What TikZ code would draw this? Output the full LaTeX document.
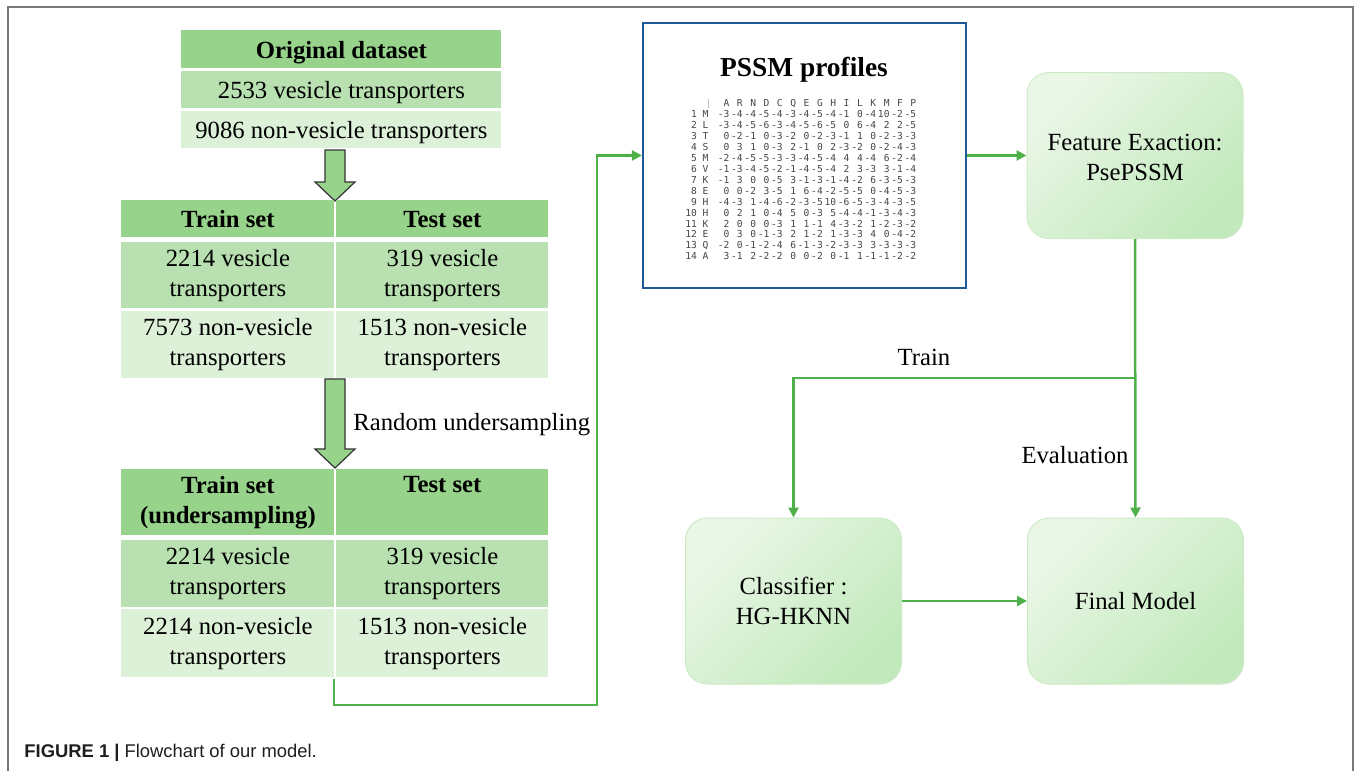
\documentclass[tikz,border=0pt]{standalone}
\usepackage{fontspec}
\setmainfont{Liberation Serif}
\newfontfamily\capfont{Liberation Sans}
\newfontfamily\pssmmono{DejaVu Sans Mono}
\usetikzlibrary{arrows.meta}
\definecolor{hdr}{RGB}{151,211,139}
\definecolor{midg}{RGB}{185,224,176}
\definecolor{lite}{RGB}{221,240,216}
\definecolor{lineg}{RGB}{77,176,72}
\definecolor{pblue}{RGB}{31,90,150}
\definecolor{boxA}{RGB}{234,247,231}
\definecolor{boxB}{RGB}{194,233,188}
\definecolor{boxE}{RGB}{205,234,199}
\definecolor{framec}{RGB}{120,120,120}
\definecolor{pssmgray}{RGB}{70,70,70}
\definecolor{capc}{RGB}{30,30,30}
\newcommand\bdfont{\fontsize{12.35}{15}\selectfont}
\newcommand\pssmrow[2]{\makebox[12pt][r]{#1}\hspace{3.8pt}\foreach \v in {#2}{\makebox[6.675pt][r]{\v}}}
\tikzset{
  cell/.style={anchor=north west, inner sep=0pt, align=center, font=\bdfont,
    execute at begin node={\rule{0pt}{11.5pt}},
    execute at end node={\rule[-2.8pt]{0pt}{0pt}}},
  barrow/.style={draw=black!80, line width=0.6pt, fill=hdr},
  conn/.style={draw=lineg, line width=1.25pt, -{Triangle[length=5pt,width=5pt]}},
  rbox/.style={rounded corners=11pt, draw=boxE, line width=0.5pt,
    top color=boxA, bottom color=boxB, shading angle=45,
    minimum width=108pt, minimum height=83pt, align=center, inner sep=0pt, font=\bdfont},
  prow/.style={anchor=base west, inner sep=0pt, text=pssmgray, font=\pssmmono\fontsize{4.8}{5}\selectfont},
  lbl/.style={inner sep=0pt, font=\bdfont}
}
\begin{document}
\begin{tikzpicture}[x=0.5pt,y=-0.5pt]
\useasboundingbox (0,0) rectangle (1356,771);
% frame
\draw[framec, line width=0.8pt] (8,771) -- (8,7) -- (1353,7) -- (1353,771);

% table 1
\node[cell, fill=hdr, minimum width=160pt, minimum height=19pt] (od) at (181,30) {\bfseries Original dataset};
\node[cell, fill=midg, minimum width=160pt, minimum height=18.5pt] (od1) at (181,71) {2533 vesicle transporters};
\node[cell, fill=lite, minimum width=160pt, minimum height=18.5pt] (od2) at (181,111) {9086 non-vesicle transporters};

% block arrow 1
\draw[barrow] (325,150) -- (345,150) -- (345,182) -- (355,182) -- (335,201) -- (315,182) -- (325,182) -- cycle;

% table 2
\node[cell, fill=hdr, minimum width=106.5pt, minimum height=18.5pt] (t2a) at (121,200) {\bfseries Train set};
\node[cell, fill=hdr, minimum width=106pt, minimum height=18.5pt] (t2b) at (336,200) {\bfseries Test set};
\node[cell, fill=midg, minimum width=106.5pt, minimum height=33pt] (t2c) at (121,242) {2214 vesicle\\transporters};
\node[cell, fill=midg, minimum width=106pt, minimum height=33pt] (t2d) at (336,242) {319 vesicle\\transporters};
\node[cell, fill=lite, minimum width=106.5pt, minimum height=33.5pt] (t2e) at (121,311) {7573 non-vesicle\\transporters};
\node[cell, fill=lite, minimum width=106pt, minimum height=33.5pt] (t2f) at (336,311) {1513 non-vesicle\\transporters};

% block arrow 2
\draw[barrow] (325,379) -- (345,379) -- (345,449) -- (355,449) -- (335,468) -- (315,449) -- (325,449) -- cycle;
\node[lbl, anchor=west] (rus) at (353,425) {Random undersampling};

% table 3
\node[cell, fill=hdr, minimum width=106.5pt, minimum height=33pt] (t3a) at (121,469) {\bfseries Train set\\\bfseries (undersampling)};
\node[cell, fill=hdr, minimum width=106pt, minimum height=33pt] (t3b) at (336,469) {\bfseries Test set\\\phantom{(}};
\node[cell, fill=midg, minimum width=106.5pt, minimum height=33.5pt] (t3c) at (121,540) {2214 vesicle\\transporters};
\node[cell, fill=midg, minimum width=106pt, minimum height=33.5pt] (t3d) at (336,540) {319 vesicle\\transporters};
\node[cell, fill=lite, minimum width=106.5pt, minimum height=34pt] (t3e) at (121,609) {2214 non-vesicle\\transporters};
\node[cell, fill=lite, minimum width=106pt, minimum height=34pt] (t3f) at (336,609) {1513 non-vesicle\\transporters};

% PSSM box
\node[draw=pblue, line width=1.1pt, fill=white, minimum width=161.5pt, minimum height=132.5pt, inner sep=0pt] (pssm) at (804.5,155.5) {};
\node[anchor=base, inner sep=0pt, font=\fontsize{13.7}{16}\selectfont\bfseries] (ptitle) at (804,76) {PSSM profiles};
\draw[black!25, line width=0.3pt] (708,99) -- (708,108);
\node[prow] (p0) at (684,106) {\pssmrow{}{A,R,N,D,C,Q,E,G,H,I,L,K,M,F,P}};
\node[prow] (p1) at (684,117.5) {\pssmrow{1~M}{-3,-4,-4,-5,-4,-3,-4,-5,-4,-1,0,-4,10,-2,-5}};
\node[prow] (p2) at (684,128.45) {\pssmrow{2~L}{-3,-4,-5,-6,-3,-4,-5,-6,-5,0,6,-4,2,2,-5}};
\node[prow] (p3) at (684,139.4) {\pssmrow{3~T}{0,-2,-1,0,-3,-2,0,-2,-3,-1,1,0,-2,-3,-3}};
\node[prow] (p4) at (684,150.35) {\pssmrow{4~S}{0,3,1,0,-3,2,-1,0,2,-3,-2,0,-2,-4,-3}};
\node[prow] (p5) at (684,161.3) {\pssmrow{5~M}{-2,-4,-5,-5,-3,-3,-4,-5,-4,4,4,-4,6,-2,-4}};
\node[prow] (p6) at (684,172.25) {\pssmrow{6~V}{-1,-3,-4,-5,-2,-1,-4,-5,-4,2,3,-3,3,-1,-4}};
\node[prow] (p7) at (684,183.2) {\pssmrow{7~K}{-1,3,0,0,-5,3,-1,-3,-1,-4,-2,6,-3,-5,-3}};
\node[prow] (p8) at (684,194.15) {\pssmrow{8~E}{0,0,-2,3,-5,1,6,-4,-2,-5,-5,0,-4,-5,-3}};
\node[prow] (p9) at (684,205.1) {\pssmrow{9~H}{-4,-3,1,-4,-6,-2,-3,-5,10,-6,-5,-3,-4,-3,-5}};
\node[prow] (p10) at (684,216.05) {\pssmrow{10~H}{0,2,1,0,-4,5,0,-3,5,-4,-4,-1,-3,-4,-3}};
\node[prow] (p11) at (684,227) {\pssmrow{11~K}{2,0,0,0,-3,1,1,-1,4,-3,-2,1,-2,-3,-2}};
\node[prow] (p12) at (684,237.95) {\pssmrow{12~E}{0,3,0,-1,-3,2,1,-2,1,-3,-3,4,0,-4,-2}};
\node[prow] (p13) at (684,248.9) {\pssmrow{13~Q}{-2,0,-1,-2,-4,6,-1,-3,-2,-3,-3,3,-3,-3,-3}};
\node[prow] (p14) at (684,259.85) {\pssmrow{14~A}{3,-1,2,-2,-2,0,0,-2,0,-1,1,-1,-1,-2,-2}};

% rounded boxes
\node[rbox] (feat) at (1135,155.5) {\rule{0pt}{10.5pt}Feature Exaction:\\PsePSSM};
\node[rbox] (cls) at (793.5,601) {Classifier :\\HG-HKNN};
\node[rbox] (final) at (1135.5,601) {Final Model};

% connectors
\coordinate (s) at (334,679);
\draw[conn] (s) |- (597,705) |- (pssm.west);
\draw[conn] (pssm.east) -- (feat.west);
\draw[conn] (feat.south) -- (final.north);
\coordinate (j) at (feat.south |- 0,378);
\draw[conn] (j) -| (cls.north);
\draw[conn] (cls.east) -- (final.west);
\node[lbl] (train) at (924,357) {Train};
\node[lbl] (eval) at (1075,455) {Evaluation};

% caption
\node[anchor=base west, inner sep=0pt, text=capc, font=\capfont\fontsize{9.2}{10}\selectfont] (cap) at (24,757) {\textbf{FIGURE 1 |} Flowchart of our model.};
\end{tikzpicture}
\end{document}
